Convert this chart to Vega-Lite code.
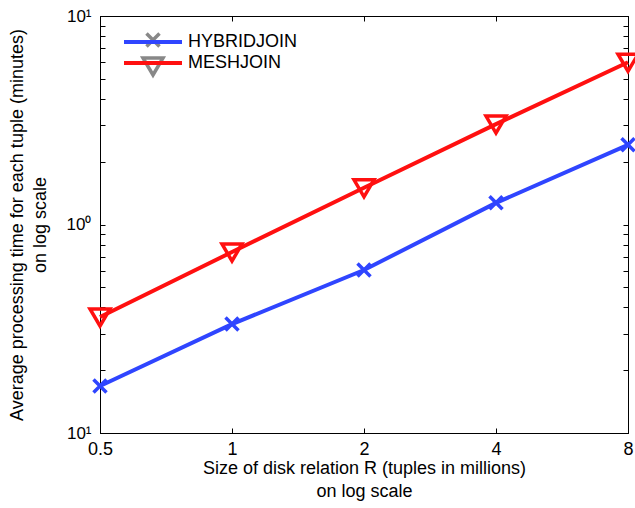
{
  "$schema": "https://vega.github.io/schema/vega-lite/v6.json",
  "width": 528,
  "height": 417,
  "autosize": "none",
  "padding": {"left": 100, "top": 16, "right": 7, "bottom": 75},
  "background": "white",
  "data": {
    "values": [
      {"size": 0.5, "time": 0.168, "series": "HYBRIDJOIN"},
      {"size": 1, "time": 0.333, "series": "HYBRIDJOIN"},
      {"size": 2, "time": 0.605, "series": "HYBRIDJOIN"},
      {"size": 4, "time": 1.27, "series": "HYBRIDJOIN"},
      {"size": 8, "time": 2.41, "series": "HYBRIDJOIN"},
      {"size": 0.5, "time": 0.36, "series": "MESHJOIN"},
      {"size": 1, "time": 0.738, "series": "MESHJOIN"},
      {"size": 2, "time": 1.5, "series": "MESHJOIN"},
      {"size": 4, "time": 3.03, "series": "MESHJOIN"},
      {"size": 8, "time": 6.0, "series": "MESHJOIN"}
    ]
  },
  "config": {
    "font": "Liberation Sans",
    "view": {"stroke": "black", "strokeWidth": 1},
    "axis": {
      "grid": false,
      "domainColor": "black",
      "tickColor": "black",
      "labelColor": "black",
      "titleColor": "black",
      "labelFont": "Liberation Sans",
      "titleFont": "Liberation Sans",
      "labelFontSize": 18,
      "titleFontSize": 18,
      "titleFontWeight": "normal",
      "labelFlush": false,
      "labelOverlap": false,
      "tickSize": -5
    },
    "legend": {
      "orient": "none",
      "legendX": 41,
      "legendY": 12,
      "padding": 0,
      "labelFontSize": 18,
      "labelFont": "Liberation Sans",
      "labelColor": "black",
      "symbolSize": 400,
      "symbolStrokeWidth": 3.5,
      "labelOffset": 23,
      "rowPadding": -4
    }
  },
  "resolve": {"axis": {"x": "independent", "y": "independent"}, "legend": {"color": "independent"}},
  "layer": [
    {
      "mark": {"type": "line", "strokeWidth": 4, "clip": false},
      "encoding": {
        "x": {
          "field": "size", "type": "quantitative",
          "scale": {"type": "log", "base": 2, "domain": [0.5, 8]},
          "axis": {
            "orient": "bottom",
            "values": [0.5, 1, 2, 4, 8],
            "labelPadding": 12,
            "title": ["Size of disk relation R (tuples in millions)", "on log scale"],
            "titleLineHeight": 23,
            "titlePadding": 1
          }
        },
        "y": {
          "field": "time", "type": "quantitative",
          "scale": {"type": "log", "domain": [0.1, 10]},
          "axis": {
            "orient": "left",
            "values": [0.1, 0.2, 0.3, 0.4, 0.5, 0.6, 0.7, 0.8, 0.9, 1, 2, 3, 4, 5, 6, 7, 8, 9, 10],
            "labelExpr": "datum.value == 0.1 ? '10¹' : datum.value == 1 ? '10⁰' : datum.value == 10 ? '10¹' : ''",
            "labelFontSize": 17,
            "labelPadding": 14,
            "title": ["Average processing time for each tuple (minutes)", "on log scale"],
            "titleLineHeight": 23,
            "titlePadding": 17
          }
        },
        "color": {
          "field": "series", "type": "nominal",
          "scale": {"domain": ["HYBRIDJOIN", "MESHJOIN"], "range": ["#2f45ff", "#ff1010"]},
          "legend": {
            "title": null,
            "symbolType": "M-2.9,0H2.9",
            "symbolStrokeWidth": 4,
            "legendY": 14,
            "rowPadding": -2
          }
        }
      }
    },
    {
      "mark": {"type": "point", "filled": false, "strokeWidth": 3.5, "size": 400, "opacity": 1, "clip": false},
      "encoding": {
        "x": {
          "field": "size", "type": "quantitative",
          "scale": {"type": "log", "base": 2, "domain": [0.5, 8]},
          "axis": {"orient": "top", "values": [0.5, 1, 2, 4, 8], "labels": false, "title": null}
        },
        "y": {
          "field": "time", "type": "quantitative",
          "scale": {"type": "log", "domain": [0.1, 10]},
          "axis": {
            "orient": "right",
            "values": [0.1, 0.2, 0.3, 0.4, 0.5, 0.6, 0.7, 0.8, 0.9, 1, 2, 3, 4, 5, 6, 7, 8, 9, 10],
            "labels": false, "title": null
          }
        },
        "color": {
          "field": "series", "type": "nominal",
          "scale": {"domain": ["HYBRIDJOIN", "MESHJOIN"], "range": ["#2f45ff", "#ff1010"]},
          "legend": {"title": null, "labelExpr": "''", "symbolSize": 0, "symbolStrokeWidth": 0}
        },
        "shape": {
          "field": "series", "type": "nominal",
          "scale": {"domain": ["HYBRIDJOIN", "MESHJOIN"], "range": ["M-0.65,-0.65L0.65,0.65M-0.65,0.65L0.65,-0.65", "M-1,-0.8L1,-0.8L0,0.9Z"]},
          "legend": {"title": null, "labelExpr": "''"}
        }
      }
    }
  ]
}
